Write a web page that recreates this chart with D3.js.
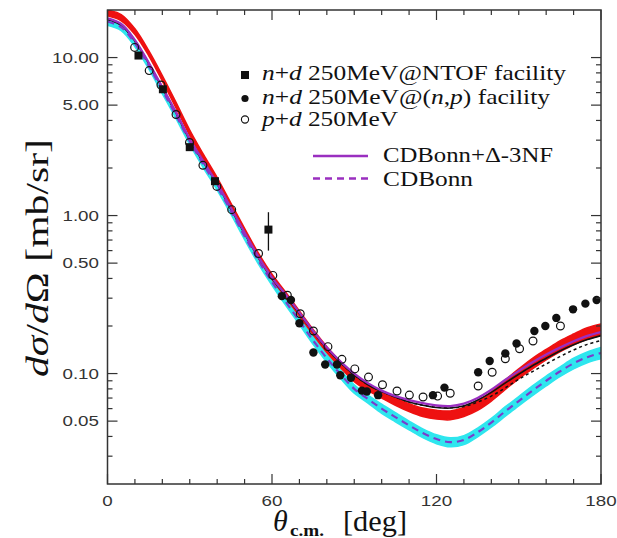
<!DOCTYPE html>
<html><head><meta charset="utf-8">
<script src="https://cdn.jsdelivr.net/npm/d3@7"></script>
<style>
body{margin:0;background:#fff} svg{display:block} text{white-space:pre}
.sf{font-family:"Liberation Serif","DejaVu Serif",serif}
.ss{font-family:"Liberation Sans","DejaVu Sans",sans-serif}
</style>
</head><body><svg id="c" width="617" height="538"></svg>
<script>
// ---- data ----
const thetaGrid = [0,5,10,15,20,25,30,35,40,45,50,55,60,65,70,75,80,85,90,95,100,105,110,115,120,125,130,135,140,145,150,155,160,165,170,175,180];
const cdbDelta = [17.7,16.3,12.9,9.3,6.5,4.5,3.05,2.2,1.6,1.12,0.78,0.55,0.405,0.315,0.243,0.186,0.146,0.119,0.1,0.087,0.078,0.072,0.068,0.065,0.0628,0.0622,0.0645,0.07,0.079,0.091,0.104,0.118,0.132,0.146,0.16,0.173,0.183];
const cdb = [16.9,15.6,12.3,8.9,6.2,4.3,2.95,2.1,1.52,1.07,0.74,0.52,0.38,0.285,0.215,0.162,0.125,0.099,0.08,0.069,0.06,0.053,0.047,0.042,0.0385,0.0368,0.038,0.0425,0.049,0.0575,0.067,0.078,0.09,0.103,0.116,0.127,0.135];
const blackSolid = [17.4,16.0,12.7,9.2,6.4,4.45,3.0,2.17,1.58,1.1,0.77,0.545,0.4,0.311,0.24,0.184,0.144,0.117,0.098,0.085,0.077,0.071,0.066,0.063,0.061,0.0605,0.0625,0.068,0.076,0.087,0.099,0.112,0.125,0.139,0.152,0.164,0.174];
const blackDotted = [17.4,16.0,12.7,9.2,6.4,4.45,3.0,2.17,1.58,1.1,0.77,0.545,0.4,0.311,0.24,0.184,0.144,0.117,0.098,0.085,0.077,0.071,0.066,0.063,0.0612,0.0607,0.0618,0.066,0.072,0.081,0.092,0.103,0.115,0.128,0.141,0.153,0.162];
const redLo = [18.4,17.1,14.0,10.3,7.1,4.8,3.22,2.26,1.62,1.12,0.77,0.54,0.395,0.303,0.231,0.176,0.136,0.109,0.089,0.078,0.07,0.063,0.0575,0.0535,0.0515,0.051,0.0535,0.0585,0.067,0.079,0.093,0.107,0.122,0.137,0.152,0.165,0.174];
const redHi = [20.0,18.7,15.2,11.1,7.7,5.2,3.48,2.44,1.74,1.2,0.83,0.58,0.425,0.327,0.249,0.19,0.148,0.119,0.097,0.086,0.077,0.07,0.0645,0.0605,0.0585,0.058,0.061,0.067,0.077,0.091,0.107,0.125,0.142,0.161,0.178,0.195,0.206];
const cyanLo = [16.0,14.8,11.7,8.5,5.9,4.1,2.81,2.0,1.45,1.02,0.705,0.495,0.362,0.27,0.204,0.153,0.118,0.093,0.075,0.065,0.056,0.0495,0.044,0.0393,0.036,0.0344,0.0355,0.0398,0.0458,0.0535,0.0625,0.0725,0.0835,0.0955,0.107,0.117,0.124];
const cyanHi = [17.6,16.3,12.9,9.3,6.5,4.5,3.09,2.2,1.59,1.12,0.775,0.545,0.398,0.3,0.226,0.171,0.132,0.105,0.085,0.073,0.064,0.0565,0.05,0.0447,0.041,0.0392,0.0405,0.0452,0.052,0.0615,0.0715,0.0835,0.0965,0.11,0.125,0.137,0.146];

// NTOF n+d
const ntofTheta = [11.3,20.2,30.0,39.2,58.7];
const ntofVal = [10.3,6.3,2.71,1.65,0.815];
const ntofErrLo = [null,null,null,null,0.6];
const ntofErrHi = [null,null,null,null,1.05];
// (n,p) facility n+d
const npTheta = [63.6,66.9,70.0,75.1,79.4,83.7,84.9,88.8,92.8,94.6,98.7,118.7,122.9,135.2,139.4,145.1,149.2,155.7,159.7,163.7,169.8,174.3,178.4];
const npVal = [0.309,0.292,0.208,0.136,0.114,0.114,0.0975,0.094,0.078,0.077,0.073,0.073,0.0815,0.102,0.120,0.134,0.155,0.186,0.20,0.225,0.255,0.277,0.292];
// p+d
const pdTheta = [9.9,15.2,19.5,25.0,29.9,34.8,39.9,45.3,55.1,60.3,65.6,70.3,75.1,80.4,85.5,90.2,95.2,100.3,105.6,110.1,115.1,120.4,125.0,135.2,140.3,145.1,150.3,155.2,165.2];
const pdVal = [11.6,8.27,6.7,4.36,2.9,2.08,1.53,1.09,0.575,0.418,0.313,0.239,0.186,0.148,0.123,0.107,0.095,0.085,0.0776,0.0731,0.0711,0.072,0.075,0.0834,0.102,0.124,0.1436,0.1606,0.20];

const yTickVals = [10,5,1,0.5,0.1,0.05];
const yTickLabels = ["10.00","5.00","1.00","0.50","0.10","0.05"];
const yMinorVals = [0.03,0.04,0.06,0.07,0.08,0.09,0.2,0.3,0.4,0.6,0.7,0.8,0.9,2,3,4,6,7,8,9];
const xTickVals = [0,60,120,180];
const xTickLabels = ["0","60","120","180"];
const xMinorVals = [10,20,30,40,50,70,80,90,100,110,130,140,150,160,170];

// ---- drawing ----
const svg = d3.select("#c");
const L = 107.5, R = 601, T = 10, B = 484;
const x = d3.scaleLinear().domain([0,180]).range([L,R]);
const y = d3.scaleLog().domain([0.02,20]).range([B,T]);

svg.append("defs").append("clipPath").attr("id","clip")
  .append("rect").attr("x",L).attr("y",T).attr("width",R-L).attr("height",B-T);
const plot = svg.append("g").attr("clip-path","url(#clip)");

const rows = (a,b) => thetaGrid.map((t,i)=>({t, lo:a[i], hi:b?b[i]:a[i]}));
const area = d3.area().x(d=>x(d.t)).y0(d=>y(d.lo)).y1(d=>y(d.hi)).curve(d3.curveCatmullRom);
const line = d3.line().x(d=>x(d.t)).y(d=>y(d.lo)).curve(d3.curveCatmullRom);

plot.append("path").attr("d",area(rows(cyanLo,cyanHi))).attr("fill","#2ee6ee").attr("stroke","#2ee6ee").attr("stroke-width",1.5);
plot.append("path").attr("d",area(rows(redLo,redHi))).attr("fill","#ee1111").attr("stroke","#ee1111").attr("stroke-width",1.5);
plot.append("path").attr("d",line(rows(blackDotted))).attr("fill","none").attr("stroke","#111").attr("stroke-width",1.5).attr("stroke-dasharray","3,3");
plot.append("path").attr("d",line(rows(blackSolid))).attr("fill","none").attr("stroke","#111").attr("stroke-width",1.6);
plot.append("path").attr("d",line(rows(cdb))).attr("fill","none").attr("stroke","#7b3ccc").attr("stroke-width",2.2).attr("stroke-dasharray","7,5");
plot.append("path").attr("d",line(rows(cdbDelta))).attr("fill","none").attr("stroke","#9a2fc0").attr("stroke-width",2.3);

// data points
const pts = svg.append("g");
ntofTheta.forEach((t,i)=>{
  if (ntofErrLo[i]!=null) pts.append("line").attr("x1",x(t)).attr("x2",x(t)).attr("y1",y(ntofErrLo[i])).attr("y2",y(ntofErrHi[i])).attr("stroke","#111").attr("stroke-width",1.3);
  pts.append("rect").attr("x",x(t)-4).attr("y",y(ntofVal[i])-4).attr("width",8).attr("height",8).attr("fill","#111");
});
npTheta.forEach((t,i)=>pts.append("circle").attr("cx",x(t)).attr("cy",y(npVal[i])).attr("r",4.2).attr("fill","#111"));
pdTheta.forEach((t,i)=>pts.append("circle").attr("cx",x(t)).attr("cy",y(pdVal[i])).attr("r",3.9).attr("fill","none").attr("stroke","#111").attr("stroke-width",1.2));

// frame and ticks
const ax = svg.append("g").attr("stroke","#333").attr("stroke-width",1.2);
xMinorVals.forEach(v=>{ [[B,-5],[T,5]].forEach(([yy,d])=>ax.append("line").attr("x1",x(v)).attr("x2",x(v)).attr("y1",yy).attr("y2",yy+d)); });
xTickVals.forEach(v=>{ [[B,-10],[T,10]].forEach(([yy,d])=>ax.append("line").attr("x1",x(v)).attr("x2",x(v)).attr("y1",yy).attr("y2",yy+d)); });
yMinorVals.forEach(v=>{ [[L,5],[R,-5]].forEach(([xx,d])=>ax.append("line").attr("x1",xx).attr("x2",xx+d).attr("y1",y(v)).attr("y2",y(v))); });
yTickVals.forEach(v=>{ [[L,10],[R,-10]].forEach(([xx,d])=>ax.append("line").attr("x1",xx).attr("x2",xx+d).attr("y1",y(v)).attr("y2",y(v))); });
svg.append("rect").attr("x",L).attr("y",T).attr("width",R-L).attr("height",B-T).attr("fill","none").attr("stroke","#333").attr("stroke-width",1.5);

function stretch(sel,f){ sel.each(function(){ const w=this.getComputedTextLength(); d3.select(this).attr("textLength",w*f).attr("lengthAdjust","spacingAndGlyphs"); }); }

yTickVals.forEach((v,i)=>{
  const t = svg.append("text").attr("class","ss").attr("x",99).attr("y",y(v)+5).attr("text-anchor","end").attr("font-size",15).attr("fill","#333").text(yTickLabels[i]);
  stretch(t,1.25);
});
xTickVals.forEach((v,i)=>{
  const t = svg.append("text").attr("class","ss").attr("x",x(v)).attr("y",506).attr("text-anchor","middle").attr("font-size",15).attr("fill","#333").text(xTickLabels[i]);
  stretch(t,1.25);
});

// x title
svg.append("text").attr("class","sf").attr("x",273).attr("y",531).attr("font-style","italic").attr("font-size",30).attr("fill","#111").text("θ");
svg.append("text").attr("class","sf").attr("x",290).attr("y",536).attr("font-weight","bold").attr("font-size",16).attr("fill","#111").attr("textLength",34).attr("lengthAdjust","spacingAndGlyphs").text("c.m.");
svg.append("text").attr("class","sf").attr("x",343).attr("y",531).attr("font-size",30).attr("fill","#111").attr("textLength",64).attr("lengthAdjust","spacingAndGlyphs").text("[deg]");

// y title
const yt = svg.append("text").attr("class","sf").attr("transform","translate(48,258) rotate(-90)").attr("text-anchor","middle")
  .attr("font-size",31).attr("fill","#111").attr("textLength",238).attr("lengthAdjust","spacingAndGlyphs");
yt.append("tspan").attr("font-style","italic").text("dσ");
yt.append("tspan").text("/");
yt.append("tspan").attr("font-style","italic").text("d");
yt.append("tspan").text("Ω [mb/sr]");

// legend
const lg = svg.append("g").attr("class","sf").attr("font-size",21).attr("fill","#111");
lg.append("rect").attr("x",241).attr("y",71).attr("width",8).attr("height",8).attr("fill","#111");
lg.append("circle").attr("cx",245).attr("cy",98.5).attr("r",3.6).attr("fill","#111");
lg.append("circle").attr("cx",245).attr("cy",119.5).attr("r",3.6).attr("fill","none").attr("stroke","#111").attr("stroke-width",1.1);
function legText(xx,yy,len,parts){
  const t = lg.append("text").attr("x",xx).attr("y",yy).attr("textLength",len).attr("lengthAdjust","spacingAndGlyphs");
  parts.forEach(([s,it])=>t.append("tspan").attr("font-style",it?"italic":"normal").text(s));
}
legText(262,80,304,[["n",1],["+",0],["d",1],[" 250MeV@NTOF facility",0]]);
legText(262,103.5,288,[["n",1],["+",0],["d",1],[" 250MeV@(",0],["n",1],[",",0],["p",1],[") facility",0]]);
legText(262,126,136,[["p",1],["+",0],["d",1],[" 250MeV",0]]);
lg.append("line").attr("x1",313).attr("x2",368).attr("y1",156).attr("y2",156).attr("stroke","#9a2fc0").attr("stroke-width",2.3);
lg.append("line").attr("x1",313).attr("x2",368).attr("y1",178.5).attr("y2",178.5).attr("stroke","#9a2fc0").attr("stroke-width",2.3).attr("stroke-dasharray","7,5");
legText(383,162,170,[["CDBonn+Δ-3NF",0]]);
legText(383,186,90,[["CDBonn",0]]);
</script>
</body></html>
